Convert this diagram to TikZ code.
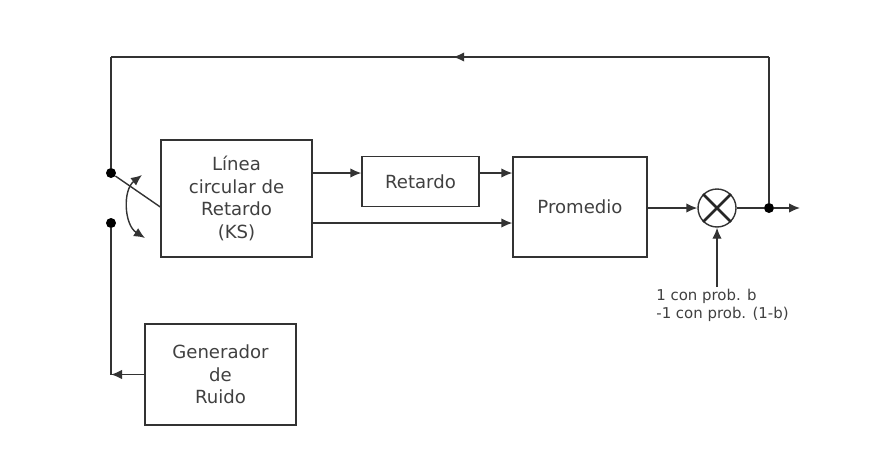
\documentclass[tikz,border=0pt]{standalone}
\usepackage{fontspec}
\setmainfont{DejaVu Sans}
\usetikzlibrary{arrows.meta, positioning, decorations.markings}

\tikzset{
  >={Latex[length=2.2mm,width=1.9mm]},
  wire/.style={line width=0.8pt, draw=black!80},
  block/.style={draw=black!80, line width=0.8pt, rectangle, align=center,
    text=black!75, font=\fontsize{10.3}{12.8}\selectfont},
  dot/.style={circle, fill=black, inner sep=0pt, minimum size=0.2cm},
  midarrow/.style={postaction={decorate}, decoration={markings,
    mark=at position 0.48 with {\arrow{>}}}}
}

\begin{document}
\begin{tikzpicture}[x=0.02cm, y=-0.02cm]
    \useasboundingbox (0,0) rectangle (874,474);

    % Blocks
    \node[block, minimum width=3.02cm, minimum height=2.34cm] (ks) at (236.5,198.5) {Línea\\circular de\\Retardo\\(KS)};
    \node[block, minimum width=2.34cm, minimum height=1.0cm] (ret) at (420.5,181.5) {Retardo};
    \node[block, minimum width=2.68cm, minimum height=2.0cm] (prom) at (580,207) {Promedio};
    \node[block, minimum width=3.02cm, minimum height=2.02cm] (gen) at (220.5,374.5) {Generador\\de\\Ruido};

    % Multiplier
    \node[draw=black!80, line width=0.8pt, circle, minimum size=0.76cm, inner sep=0pt] (mult) at (717,208) {};
    \draw[line width=1.5pt, black!85] (mult.north west) -- (mult.south east);
    \draw[line width=1.5pt, black!85] (mult.north east) -- (mult.south west);

    % Switch contacts and branch point
    \node[dot] (sw1) at (111,173) {};
    \node[dot] (sw2) at (111,223) {};
    \node[dot] (out) at (769,208) {};
    \coordinate (tl) at (111,57);
    \coordinate (tr) at (769,57);
    \coordinate (fin) at (800,208);

    % Sign input
    \node[anchor=north west, align=left, inner sep=0pt, text=black!75,
      font=\fontsize{8.5}{10.2}\selectfont] (prob) at (656,289) {1 con prob. b\\-1 con prob. (1-b)};

    % Forward path
    \draw[wire, ->] (ks.east |- 0,173) -- (ret.west |- 0,173);
    \draw[wire, ->] (ret.east |- 0,173) -- (prom.west |- 0,173);
    \draw[wire, ->] (ks.east |- 0,223) -- (prom.west |- 0,223);
    \draw[wire, ->] (prom.east |- mult.west) -- (mult.west);
    \draw[wire] (mult.east) -- (out);
    \draw[wire, ->] (out) -- (fin);
    \draw[wire, ->] (mult.south |- 0,287) -- (mult.south);

    % Feedback loop
    \draw[wire] (out) -- (tr);
    \draw[wire, midarrow] (tr) -- (tl);
    \draw[wire] (tl) -- (sw1);
    \draw[wire] (sw1) -- (ks.west |- 0,207);
    \draw[wire, <->] (142,175) to[bend right=55] (145,238);

    % Noise input
    \draw[wire] (sw2) -- (sw2 |- gen.west);
    \draw[wire, ->] (gen.west) -- (sw2 |- gen.west);
\end{tikzpicture}
\end{document}
